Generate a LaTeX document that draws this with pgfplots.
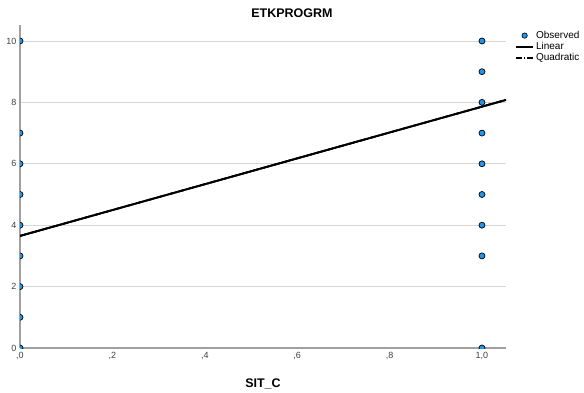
\documentclass[border=0pt]{standalone}
\usepackage{pgfplots}
\pgfplotsset{compat=1.18}
\usepackage{fontspec}
\setmainfont{Liberation Sans}
\definecolor{obs}{RGB}{30,150,240}
\definecolor{axgray}{RGB}{160,160,160}
\definecolor{gridgray}{RGB}{215,215,215}
\begin{document}
\begin{tikzpicture}
\path[use as bounding box] (0pt,0pt) rectangle (584pt,-392pt);
\begin{axis}[
  at={(20pt,-348pt)}, anchor=south west,
  scale only axis, width=486pt, height=323pt,
  xmin=0, xmax=1.052, ymin=0, ymax=10.52,
  axis lines*=left,
  axis line style={axgray, line width=1.2pt},
  xtick={0,0.2,0.4,0.6,0.8,1},
  xticklabels={{,0},{,2},{,4},{,6},{,8},{1,0}},
  ytick={0,2,4,6,8,10},
  major tick length=0pt,
  tick label style={font=\fontsize{9}{10}\selectfont, text=black!75},
  xticklabel style={yshift=-1pt},
  ymajorgrids, grid style={gridgray, line width=0.8pt},
  /pgf/number format/assume math mode=true,
  xlabel={\bfseries SIT\_C}, xlabel style={font=\fontsize{12.5}{14}\selectfont, at={(axis description cs:0.5,0)}, yshift=-27pt},
  clip marker paths=true,
  legend style={draw=none, fill=none, at={(1,1)}, anchor=north west, xshift=6pt, yshift=-2pt, font=\fontsize{10}{12}\selectfont, row sep=-1.5pt, legend cell align=left, /tikz/every even column/.append style={column sep=1pt}},
  legend image code/.code={\draw[#1] (0cm,0cm) -- (0.6cm,0cm);},
]
\addplot[only marks, mark=*, mark size=3pt, mark options={fill=obs, draw=black, line width=0.7pt},
  legend image code/.code={\draw[mark=*, mark size=2.7pt, mark options={fill=obs, draw=black, line width=0.6pt}] plot coordinates {(0.3cm,0cm)};}]
coordinates {
(0,10) (0,7) (0,6) (0,5) (0,4) (0,3) (0,2) (0,1) (0,0)
(1,10) (1,9) (1,8) (1,7) (1,6) (1,5) (1,4) (1,3) (1,0)
};
\addlegendentry{Observed}
\addplot[black, line width=1.8pt] coordinates {(0,3.65) (1.052,8.08)};
\addlegendentry{Linear}
\addplot[black, line width=1.8pt, dash pattern=on 6pt off 2pt on 1pt off 2pt, forget plot] coordinates {(0,3.65) (1.052,8.08)};
\addlegendimage{black, line width=1.8pt, dash pattern=on 6pt off 2pt on 1pt off 2pt}
\addlegendentry{Quadratic}
\addplot[black, line width=1.8pt, forget plot] coordinates {(0,3.65) (1.052,8.08)};
\end{axis}
\node[font=\bfseries\fontsize{12.5}{14}\selectfont] at (292pt,-13pt) {ETKPROGRM};
\end{tikzpicture}
\end{document}
